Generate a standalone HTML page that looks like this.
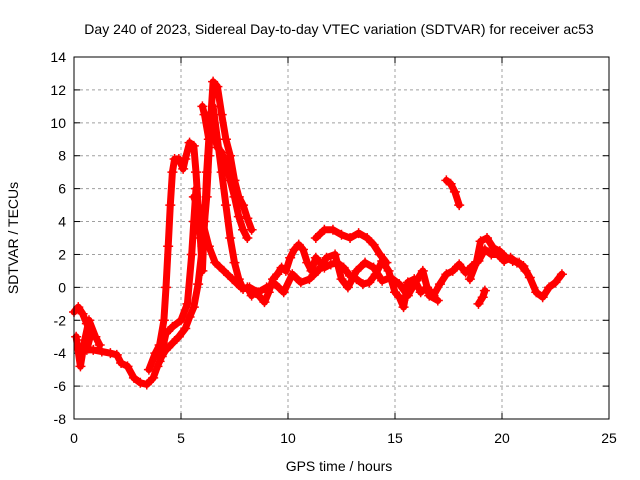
<!DOCTYPE html>
<html><head><meta charset="utf-8"><style>
body{margin:0;background:#fff}
svg{display:block;font-family:"Liberation Sans",sans-serif}
</style></head><body>
<svg id="chart" width="640" height="480" xmlns="http://www.w3.org/2000/svg">
<rect width="640" height="480" fill="#fff"/>
<text x="339" y="34" font-size="14" text-anchor="middle">Day 240 of 2023, Sidereal Day-to-day VTEC variation (SDTVAR) for receiver ac53</text>
<text x="339" y="471" font-size="14" text-anchor="middle">GPS time / hours</text>
<text transform="translate(18,238) rotate(-90)" font-size="14" text-anchor="middle">SDTVAR / TECUs</text>
<g id="grid"></g>
<g id="ticks"></g>
<g id="series"></g>
<rect x="74" y="57" width="535" height="362" fill="none" stroke="#000" stroke-width="1"/>
</svg>
<script>
const xTicks=[0,5,10,15,20,25];
const yTicks=[-8,-6,-4,-2,0,2,4,6,8,10,12,14];
const trace1=[[0,-1.5],[0.2,-1.2],[0.4,-1.6],[0.6,-2.2],[0.8,-2.8],[0.6,-3.8],[0.9,-3.8],[1.3,-3.9],[1.7,-4.0],[2.0,-4.1],[2.2,-4.6],[2.5,-4.8],[2.8,-5.5],[3.1,-5.8],[3.4,-5.9],[3.7,-5.5],[3.9,-4.8],[4.1,-4.2],[4.3,-3.8],[4.6,-3.4],[4.9,-3.0],[5.2,-2.5],[5.4,-1.8],[5.6,-1.2],[5.8,0.2],[6.0,2.5],[6.2,5.5],[6.3,8],[6.4,10.5],[6.5,12.5],[6.7,12.2],[6.9,10.5],[7.1,9],[7.3,8],[7.5,6.5],[7.7,5.5],[7.9,5],[8.1,4.2],[8.3,3.5]];
const trace2=[[0.1,-3.0],[0.3,-4.8],[0.5,-3.2],[0.7,-2.0],[1.0,-3.0],[1.2,-3.5]];
const trace2b=[[3.5,-5],[3.8,-4],[4.0,-3.5],[4.2,-2],[4.3,0],[4.4,2.5],[4.5,5],[4.6,7],[4.7,7.8],[4.9,7.8],[5.1,7.2],[5.2,7.8],[5.4,8.8],[5.6,8.6],[5.7,7],[5.8,5],[5.9,3],[6.0,1],[6.1,4],[6.2,7],[6.3,9],[6.1,10.5],[6.0,11]];
const trace3=[[6.5,11],[6.7,9],[6.9,7],[7.1,5],[7.3,3],[7.5,1.5],[7.7,0.5],[7.9,-0.1],[8.1,0],[8.3,-0.5],[8.5,-0.3],[8.7,-0.6],[8.9,-0.9],[9.1,-0.3],[9.3,0.5],[9.5,0.8],[9.7,1.2],[9.9,1],[10.1,1.8],[10.3,2.3],[10.5,2.6],[10.7,2.3],[10.9,1.5],[11.1,1],[11.3,1.8],[11.5,1.5],[11.7,1.2],[12.0,1.4],[12.3,1.5],[12.6,1.2],[12.9,0.7],[13.2,0.5],[13.5,0.2],[13.8,0.3],[14.1,0.8],[14.4,1.6],[14.7,1.0],[15.0,-0.3],[15.2,-0.6],[15.4,-1.2],[15.6,0.3],[15.9,0.5],[16.2,-0.3],[16.5,0],[16.8,-0.5],[17.1,0.2],[17.4,0.8],[17.7,1.0],[18.0,1.4],[18.3,0.9],[18.6,1.3],[18.9,1.6],[19.2,2.3],[19.5,2.0],[19.8,2.0],[20.1,1.6],[20.4,1.8],[20.7,1.5],[21.0,1.3],[21.3,0.6],[21.6,-0.3],[21.9,-0.6],[22.2,0],[22.5,0.3],[22.8,0.8]];
const trace4=[[8.2,0],[8.6,-0.3],[9.0,0],[9.4,0.2],[9.8,-0.3],[10.2,0.8],[10.6,0.3],[11.0,0.5],[11.4,1.0],[11.8,1.8],[12.2,2.0],[12.5,0.5],[12.8,0],[13.2,1.0],[13.6,1.5],[14.0,1.2],[14.4,0.4],[14.8,0.6],[15.2,0.2],[15.6,-0.5],[16.0,0.4],[16.3,1.0],[16.6,-0.5],[17.0,-0.8]];
const trace5=[[11.3,3.0],[11.7,3.5],[12.1,3.5],[12.5,3.2],[12.9,3.0],[13.3,3.3],[13.7,3.0],[14.0,2.6],[14.3,2.0],[14.6,1.5]];
const trace6=[[17.4,6.5],[17.6,6.3],[17.8,5.8],[18.0,5.0]];
const trace7=[[18.9,-1],[19.1,-0.6],[19.2,-0.2]];
const trace8=[[18.5,0.5],[18.8,1.5],[19.0,2.8],[19.3,3.0],[19.6,2.4],[19.9,2.2],[20.2,1.8],[20.5,1.6],[20.8,1.5],[21.1,1.0]];
const trace9=[[6.3,10.5],[6.5,9.5],[6.7,8.5],[6.9,8.2],[7.1,7.5],[7.3,6.5],[7.5,5.5],[7.7,4.3],[7.9,3.5],[8.1,3.0]];
const trace10=[[5.6,5.5],[5.9,4.5],[6.3,2.5],[6.6,1.5],[7.0,1.0],[7.4,0.5],[7.8,0]];
const trace11=[[4.0,-4.5],[4.3,-2.8],[4.6,-2.4],[5.0,-2.0],[5.3,-1.0],[5.5,2],[5.6,4],[5.7,6]];
const traces=[trace1,trace2,trace2b,trace3,trace4,trace5,trace6,trace7,trace8,trace9,trace10,trace11];

const NS="http://www.w3.org/2000/svg";
const X0=74,X1=609,Y0=419,Y1=57,xMin=0,xMax=25,yMin=-8,yMax=14;
function sx(v){return X0+(v-xMin)/(xMax-xMin)*(X1-X0);}
function sy(v){return Y0-(v-yMin)/(yMax-yMin)*(Y0-Y1);}
function mk(tag,attrs,parent){const e=document.createElementNS(NS,tag);for(const k in attrs)e.setAttribute(k,attrs[k]);parent.appendChild(e);return e;}
const grid=document.getElementById('grid'),ticks=document.getElementById('ticks'),series=document.getElementById('series');
xTicks.forEach(t=>{
  const x=sx(t);
  if(t>xMin&&t<xMax){const l=mk('line',{x1:x,x2:x,y1:Y1,y2:Y0,stroke:'#a0a0a0','stroke-dasharray':'3,3'},grid);
  
  }
  mk('line',{x1:x,x2:x,y1:Y0,y2:Y0-6,stroke:'#000'},ticks);
  mk('line',{x1:x,x2:x,y1:Y1,y2:Y1+6,stroke:'#000'},ticks);
  const tx=mk('text',{x:x,y:Y0+24,'font-size':14,'text-anchor':'middle'},ticks);
  tx.textContent=t;
  
  
});
yTicks.forEach(t=>{
  const y=sy(t);
  if(t>yMin&&t<yMax){const l=mk('line',{x1:X0,x2:X1,y1:y,y2:y,stroke:'#a0a0a0','stroke-dasharray':'3,3'},grid);
  
  }
  mk('line',{x1:X0,x2:X0+6,y1:y,y2:y,stroke:'#000'},ticks);
  mk('line',{x1:X1,x2:X1-6,y1:y,y2:y,stroke:'#000'},ticks);
  const tx=mk('text',{x:X0-8,y:y+5,'font-size':14,'text-anchor':'end'},ticks);
  tx.textContent=t;
  
  
});
traces.forEach((tr,i)=>{
  const pts=tr.map(p=>sx(p[0]).toFixed(1)+','+sy(p[1]).toFixed(1)).join(' ');
  const pl=mk('polyline',{points:pts,fill:'none',stroke:'#f00','stroke-width':7,'stroke-linejoin':'round','stroke-linecap':'round'},series);
  
  
  tr.forEach(p=>{
    const x=sx(p[0]),y=sy(p[1]);
    const m=mk('path',{d:`M${x-5},${y}H${x+5}M${x},${y-5}V${y+5}`,stroke:'#f00','stroke-width':1.5},series);
    
    
  });
});
</script>
</body></html>
